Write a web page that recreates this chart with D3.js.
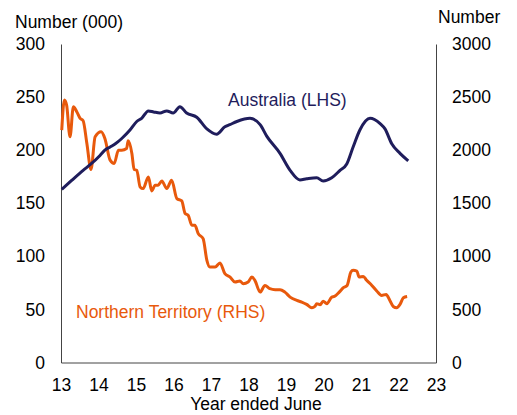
<!DOCTYPE html>
<html>
<head>
<meta charset="utf-8">
<script src="https://cdn.jsdelivr.net/npm/d3@7"></script>
<style>
  body { margin: 0; background: #fff; }
  svg { display: block; font-family: "Liberation Sans", Arial, sans-serif; }
</style>
</head>
<body>
<svg id="chart"></svg>
<script>
const w = 517;
const h = 415;

// x = year ended June (13 = 2013)
const xTicks = [13, 14, 15, 16, 17, 18, 19, 20, 21, 22, 23];
const leftTicks = [0, 50, 100, 150, 200, 250, 300];
const rightTicks = [0, 500, 1000, 1500, 2000, 2500, 3000];

// Australia, thousands (LHS)
const ausYears = [13.02, 13.3, 13.59, 13.8, 14.04, 14.17, 14.31, 14.45, 14.62, 14.84, 15.02, 15.15, 15.33, 15.47,
  15.64, 15.82, 15.99, 16.17, 16.35, 16.62, 16.89, 17.15, 17.37, 17.5, 17.69, 18.04, 18.31, 18.49, 18.84,
  19.11, 19.37, 19.55, 19.82, 19.99, 20.22, 20.44, 20.62, 20.79, 20.97, 21.24, 21.51, 21.64, 21.82, 22.04, 22.26];
const ausValues = [163, 172, 181, 187, 195, 200, 203, 206, 211, 219, 227, 230, 237, 236,
  235, 237, 235, 241, 235, 231, 220, 215, 222, 224, 227, 230, 224, 213, 197,
  181, 172, 173, 174, 171, 174, 181, 187, 203, 219, 230, 225, 220, 206, 197, 190];

// Northern Territory, number (RHS)
const ntYears = [13.02, 13.09, 13.15, 13.24, 13.33, 13.42, 13.51, 13.59, 13.69, 13.8, 13.91, 14.07, 14.17, 14.31,
  14.42, 14.53, 14.62, 14.75, 14.79, 14.89, 14.95, 15.02, 15.11, 15.19, 15.33, 15.42, 15.51, 15.59, 15.69,
  15.82, 15.95, 16.09, 16.22, 16.31, 16.39, 16.49, 16.57, 16.66, 16.79, 16.89, 16.97, 17.11, 17.24, 17.37,
  17.51, 17.64, 17.77, 17.86, 17.99, 18.09, 18.17, 18.31, 18.44, 18.57, 18.71, 18.84, 18.97, 19.11, 19.29,
  19.42, 19.55, 19.69, 19.77, 19.82, 19.91, 19.99, 20.09, 20.22, 20.29, 20.42, 20.53, 20.63, 20.73, 20.79,
  20.89, 20.95, 21.06, 21.15, 21.29, 21.42, 21.55, 21.67, 21.77, 21.86, 21.95, 22.04, 22.13, 22.23];
const ntValues = [2189, 2472, 2425, 2126, 2409, 2362, 2299, 2277, 2063, 1818, 2126, 2173, 2110, 1906,
  1875, 2000, 2000, 2016, 2088, 1969, 1818, 1811, 1654, 1638, 1748, 1616, 1670, 1670, 1710,
  1638, 1717, 1544, 1522, 1403, 1387, 1292, 1292, 1214, 1167, 962, 899, 899, 937, 837,
  805, 758, 767, 742, 758, 805, 774, 663, 726, 695, 686, 686, 663, 616, 585,
  569, 547, 516, 528, 554, 544, 578, 554, 616, 622, 663, 705, 726, 852, 868,
  861, 805, 811, 774, 726, 673, 632, 641, 585, 528, 516, 547, 610, 622];

const navy = "#1f1d5c";
const orange = "#e8590c";
const axisColor = "#444";
const fontSize = 17.5;

const svg = d3.select("#chart")
  .attr("width", w)
  .attr("height", h)
  .attr("viewBox", [0, 0, w, h]);

const x = d3.scaleLinear().domain([13, 23]).range([61, 436]);
const yLeft = d3.scaleLinear().domain([0, 300]).range([362.5, 44]);
const yRight = d3.scaleLinear().domain([0, 3000]).range([362.5, 44]);

function styleAxis(g) {
  g.select(".domain").attr("stroke", axisColor).attr("stroke-width", 1);
  g.selectAll("text")
    .attr("font-family", "Liberation Sans, Arial, sans-serif")
    .attr("font-size", fontSize)
    .attr("fill", "#000");
}

svg.append("g")
  .attr("transform", "translate(61,0)")
  .call(d3.axisLeft(yLeft).tickValues(leftTicks).tickFormat(d3.format("d")).tickSize(0).tickSizeOuter(0).tickPadding(16))
  .call(styleAxis);

svg.append("g")
  .attr("transform", "translate(436,0)")
  .call(d3.axisRight(yRight).tickValues(rightTicks).tickFormat(d3.format("d")).tickSize(0).tickSizeOuter(0).tickPadding(16))
  .call(styleAxis);

svg.append("g")
  .attr("transform", "translate(0,362.5)")
  .call(d3.axisBottom(x).tickValues(xTicks).tickFormat(d3.format("d")).tickSize(0).tickSizeOuter(0).tickPadding(16))
  .call(styleAxis);

// unit titles
svg.append("text")
  .attr("x", 15).attr("y", 28)
  .attr("font-size", fontSize)
  .text("Number (000)");

svg.append("text")
  .attr("x", 438).attr("y", 23)
  .attr("font-size", fontSize)
  .text("Number");

svg.append("text")
  .attr("x", 256).attr("y", 410)
  .attr("text-anchor", "middle")
  .attr("font-size", fontSize)
  .text("Year ended June");

const ausLine = d3.line()
  .x(d => x(d[0]))
  .y(d => yLeft(d[1]))
  .curve(d3.curveMonotoneX);

const ntLine = d3.line()
  .x(d => x(d[0]))
  .y(d => yRight(d[1]))
  .curve(d3.curveMonotoneX);

svg.append("path")
  .datum(d3.zip(ntYears, ntValues))
  .attr("fill", "none")
  .attr("stroke", orange)
  .attr("stroke-width", 3)
  .attr("stroke-linejoin", "round")
  .attr("d", ntLine);

svg.append("path")
  .datum(d3.zip(ausYears, ausValues))
  .attr("fill", "none")
  .attr("stroke", navy)
  .attr("stroke-width", 3)
  .attr("stroke-linejoin", "round")
  .attr("d", ausLine);

// series labels
svg.append("text")
  .attr("x", 228).attr("y", 106)
  .attr("font-size", fontSize)
  .attr("fill", navy)
  .text("Australia (LHS)");

svg.append("text")
  .attr("x", 76).attr("y", 318)
  .attr("font-size", fontSize)
  .attr("fill", orange)
  .text("Northern Territory (RHS)");
</script>
</body>
</html>
